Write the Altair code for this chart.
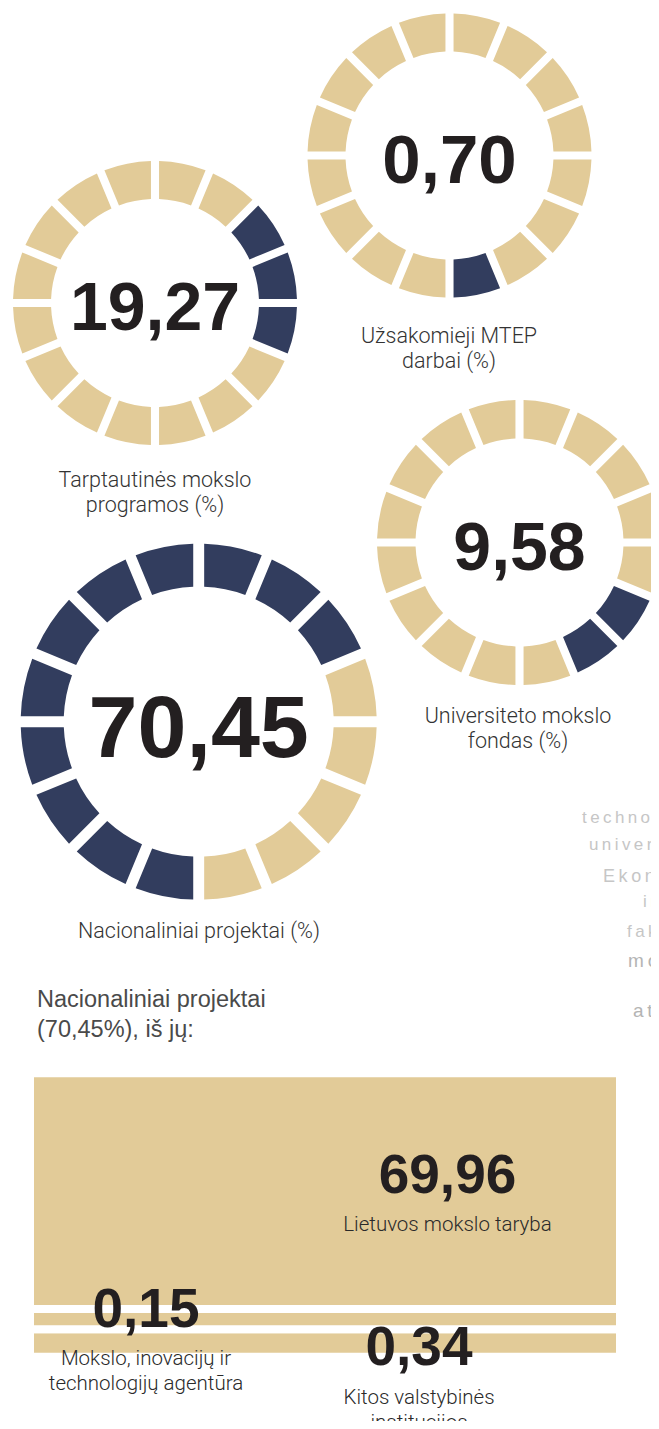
import math
import altair as alt
import pandas as pd

# ---------------- data ----------------
donut_labels = [
    "Tarptautinės mokslo\nprogramos  (%)",
    "Užsakomieji MTEP\ndarbai (%)",
    "Universiteto mokslo\nfondas  (%)",
    "Nacionaliniai projektai  (%)",
]
donut_values = [19.27, 0.70, 9.58, 70.45]
dark_start = [2, 7, 5, 8]      # first highlighted segment (clockwise from top)
dark_count = [3, 1, 2, 11]     # number of highlighted segments
N_SEG = 16

sub_labels = [
    "Lietuvos mokslo taryba",
    "Mokslo, inovacijų ir\ntechnologijų agentūra",
    "Kitos valstybinės\ninstitucijos",
]
sub_values = [69.96, 0.15, 0.34]

title_text = "Nacionaliniai projektai\n(70,45%), iš jų:"
side_words = ["technologijos", "universiteto", "Ekonomikos", "ir", "fakulteto", "mokslo", "atlikti"]

# ---------------- style / layout ----------------
BEIGE = "#E2CB98"
NAVY = "#323D5E"
INK = "#231F20"
GREY = "#333333"
FAINT = "#C6C6C6"

W, H = 643, 1413

donut_layout = [
    dict(cx=147.0, cy=295.0, r=142, r0=104, pad=0.046, fs=68, lx=147, ly=479),
    dict(cx=441.5, cy=147.5, r=142, r0=104, pad=0.046, fs=69, lx=441, ly=335),
    dict(cx=511.5, cy=534.5, r=142.5, r0=104, pad=0.046, fs=68, lx=510, ly=715),
    dict(cx=190.7, cy=713.7, r=178, r0=135, pad=0.049, fs=88, lx=191, ly=930),
]

sub_layout = [
    dict(nx=439.5, ny=1185.3, lx=439.5, ly=1222.7),
    dict(nx=138.0, ny=1319.3, lx=138.0, ly=1357.0),
    dict(nx=411.0, ny=1357.0, lx=411.0, ly=1396.0),
]
BAND_RANGE = [1348.7, 1321.2, 1300.9, 1065.3]

side_layout = [
    dict(x=574, y=815, fs=17, c=FAINT),
    dict(x=581, y=842, fs=17, c=FAINT),
    dict(x=595, y=874, fs=18, c=FAINT),
    dict(x=635, y=899, fs=17, c=FAINT),
    dict(x=619, y=929, fs=17, c=FAINT),
    dict(x=620, y=959, fs=19, c="#B4B4B4"),
    dict(x=625, y=1009, fs=19, c="#B4B4B4"),
]

# ---------------- tables ----------------
seg_rows = []
for i, (s, c) in enumerate(zip(dark_start, dark_count)):
    for k in range(N_SEG):
        dark = ((k - s) % N_SEG) < c
        seg_rows.append(dict(donut=i, seg=k, seg_end=k + 1,
                             state="dark" if dark else "light"))
seg_df = pd.DataFrame(seg_rows)

num_df = pd.DataFrame({
    "donut": list(range(len(donut_values))),
    "value": donut_values,
    "label": donut_labels,
})
num_df["txt"] = num_df["value"].map(lambda v: f"{v:.2f}".replace(".", ","))

sub_df = pd.DataFrame({"idx": list(range(len(sub_values))),
                       "name": sub_labels, "value": sub_values})
sub_df["txt"] = sub_df["value"].map(lambda v: f"{v:.2f}".replace(".", ","))
# stack from the bottom: last item at the bottom
stack_df = sub_df.iloc[::-1].copy()
stack_df["y1"] = stack_df["value"].cumsum().round(2)
stack_df["y0"] = (stack_df["y1"] - stack_df["value"]).round(2)
breaks = [0.0] + stack_df["y1"].tolist()

theta_scale = alt.Scale(domain=[0, N_SEG], range=[0, 2 * math.pi])
color_scale = alt.Scale(domain=["dark", "light"], range=[NAVY, BEIGE])

layers = []

for i, L in enumerate(donut_layout):
    arcs = alt.Chart(seg_df).transform_filter(alt.datum.donut == i).mark_arc(
        innerRadius=L["r0"], outerRadius=L["r"], padAngle=L["pad"]
    ).encode(
        theta=alt.Theta("seg:Q", scale=theta_scale, stack=False),
        theta2="seg_end:Q",
        color=alt.Color("state:N", scale=color_scale, legend=None),
        x=alt.value(L["cx"]),
        y=alt.value(L["cy"]),
    )
    num = alt.Chart(num_df).transform_filter(alt.datum.donut == i).mark_text(
        font="Liberation Sans", fontWeight="bold", fontSize=L["fs"], color=INK,
        align="center", baseline="alphabetic",
    ).encode(
        text="txt:N",
        x=alt.value(L["cx"]),
        y=alt.value(L["cy"] + 0.4 * L["fs"]),
    )
    lab = alt.Chart(num_df).transform_filter(alt.datum.donut == i).mark_text(
        font="Roboto", fontWeight=300, fontSize=21.5, color=GREY,
        align="center", baseline="alphabetic", lineBreak="\n", lineHeight=25,
    ).encode(
        text="label:N",
        x=alt.value(L["lx"]),
        y=alt.value(L["ly"]),
    )
    layers += [arcs, num, lab]

# faint cut-off text at the right edge (widely tracked letters)
side_df = pd.DataFrame({"k": list(range(len(side_words))),
                        "word": ["\u2009".join(w) for w in side_words]})
for k, S in enumerate(side_layout):
    layers.append(
        alt.Chart(side_df).transform_filter(alt.datum.k == k).mark_text(
            font="Liberation Sans", fontSize=S["fs"], color=S["c"],
            align="left", baseline="alphabetic",
        ).encode(text="word:N", x=alt.value(S["x"]), y=alt.value(S["y"]))
    )

# section title
title_df = pd.DataFrame({"t": [title_text]})
layers.append(
    alt.Chart(title_df).mark_text(
        font="Liberation Sans", fontSize=23.5, color="#4A4A4A",
        align="left", baseline="alphabetic", lineBreak="\n", lineHeight=30,
    ).encode(text="t:N", x=alt.value(29), y=alt.value(998.7))
)

# stacked band block
layers.append(
    alt.Chart(stack_df).mark_rect(color=BEIGE, stroke="white", strokeWidth=8).encode(
        y=alt.Y("y0:Q", scale=alt.Scale(domain=breaks, range=BAND_RANGE, nice=False, zero=False), axis=None),
        y2="y1:Q",
        x=alt.value(22),
        x2=alt.value(612),
    )
)

for i, S in enumerate(sub_layout):
    layers.append(
        alt.Chart(sub_df).transform_filter(alt.datum.idx == i).mark_text(
            font="Liberation Sans", fontWeight="bold", fontSize=55, color=INK,
            align="center", baseline="alphabetic",
        ).encode(text="txt:N", x=alt.value(S["nx"]), y=alt.value(S["ny"]))
    )
    layers.append(
        alt.Chart(sub_df).transform_filter(alt.datum.idx == i).mark_text(
            font="Roboto", fontWeight=300, fontSize=20.5, color="#2A2A2A",
            align="center", baseline="alphabetic", lineBreak="\n", lineHeight=25,
        ).encode(text="name:N", x=alt.value(S["lx"]), y=alt.value(S["ly"]))
    )

chart = alt.layer(*layers).properties(
    width=W, height=H,
    autosize=alt.AutoSizeParams(type="none"),
    padding=0,
).configure_view(stroke=None)

chart.save("out.html", embed_options={"renderer": "svg", "actions": False})
